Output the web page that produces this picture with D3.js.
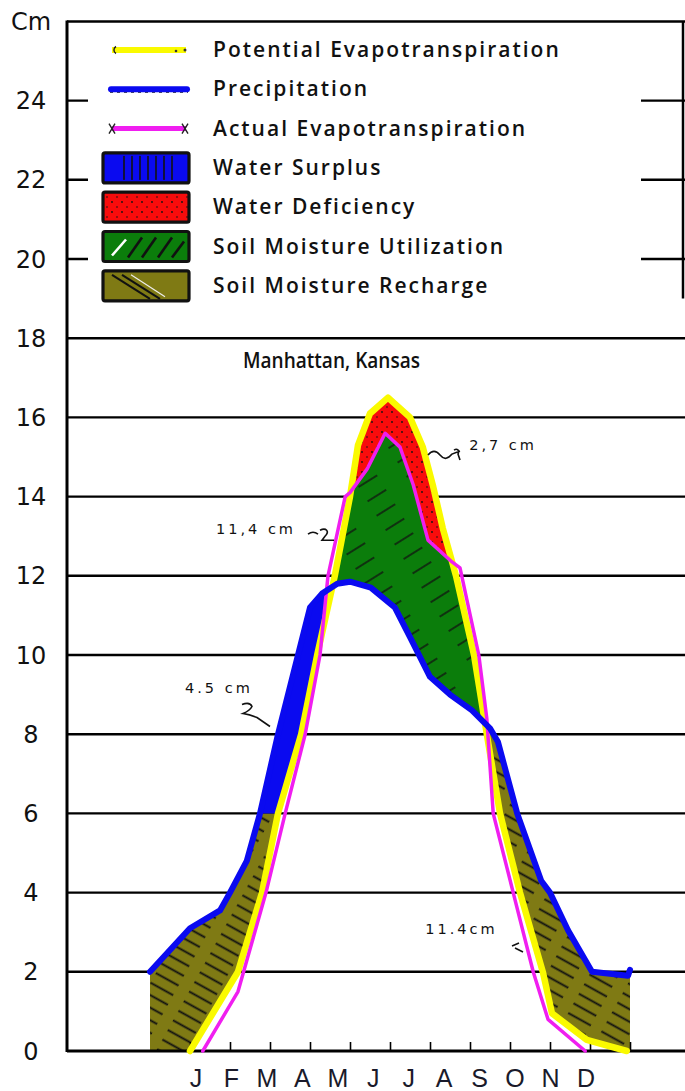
<!DOCTYPE html>
<html>
<head>
<meta charset="utf-8">
<script src="https://cdnjs.cloudflare.com/ajax/libs/d3/7.8.5/d3.min.js"></script>
<style>
  html, body { margin: 0; padding: 0; background: #fff; }
  svg { display: block; }
</style>
</head>
<body>
<svg id="chart"></svg>
<script>
// month position runs 0..12 over the year (0 = start of Jan, 12 = end of Dec), values in cm
let months = ["J", "F", "M", "A", "M", "J", "J", "A", "S", "O", "N", "D"];
let yTicks = [0, 2, 4, 6, 8, 10, 12, 14, 16, 18, 20, 22, 24];

let precipM = [0, 1, 1.75, 2, 2.42, 2.75, 3.2, 3.7, 4, 4.3, 4.68, 5, 5.52, 6.12, 6.5, 7, 7.5, 8.05, 8.5, 8.7, 9.18, 9.78, 10, 10.45, 10.88, 11.05, 11.95, 12];
let precipV = [2, 3.1, 3.55, 4, 4.8, 6, 8, 10, 11.2, 11.55, 11.8, 11.85, 11.7, 11.2, 10.45, 9.45, 9, 8.6, 8.15, 7.8, 6, 4.3, 4, 3.05, 2.3, 2, 1.9, 2.05];

let potM = [1, 2.2, 2.8, 3.2, 3.78, 4.18, 4.62, 5, 5.2, 5.5, 5.95, 6.5, 6.82, 7.08, 7.32, 7.65, 8.1, 8.42, 8.75, 9.25, 9.82, 10.05, 10.92, 11.92];
let potV = [0, 2, 4, 6, 8, 10, 12, 14, 15.3, 16.1, 16.5, 16, 15.25, 14.25, 13.2, 12, 10, 8, 6, 4, 2, 0.95, 0.28, 0];

let actM = [1.32, 2.2, 2.9, 3.38, 3.88, 4.25, 4.45, 4.88, 5, 5.43, 5.88, 6.25, 6.58, 6.95, 7.55, 7.75, 8.22, 8.42, 8.58, 9.08, 9.58, 9.95, 10.88];
let actV = [0, 1.5, 4, 6, 8, 10, 12, 14, 14.1, 14.7, 15.6, 15.25, 14.3, 12.9, 12.35, 12.2, 10, 8.4, 6, 4, 2, 0.8, 0];

let soilCapacity = 6; // recharge tops out here on the spring limb

let legendLabels = ["Potential Evapotranspiration", "Precipitation", "Actual Evapotranspiration",
    "Water Surplus", "Water Deficiency", "Soil Moisture Utilization", "Soil Moisture Recharge"];
let noteLabels = ["2,7 cm", "11,4 cm", "4.5 cm", "11.4cm"];
let title = "Manhattan, Kansas";

let width = 685,
    height = 1091,
    axisX = 67,
    rightX = 685;

let colBlue = "#0a0af0",
    colYellow = "#fafa00",
    colMagenta = "#f01ef0",
    colGreen = "#0b7d0b",
    colRed = "#f80c0c",
    colOlive = "#7f7a14";

let svg = d3.select("#chart").attr("width", width).attr("height", height);

let x = d3.scaleLinear().domain([0, 12]).range([150, 630]);
let y = d3.scaleLinear().domain([0, 26]).range([1051, 21.4]);

// linear lookup along a traced curve
function at(ms, vs, m, outside) {
    if (m < ms[0] || m > ms[ms.length - 1]) return outside;
    let i = d3.bisectRight(ms, m);
    if (i >= ms.length) return vs[vs.length - 1];
    let t = (m - ms[i - 1]) / (ms[i] - ms[i - 1]);
    return vs[i - 1] + t * (vs[i] - vs[i - 1]);
}

let defs = svg.append("defs");

let olivePat = defs.append("pattern").attr("id", "hatchOlive")
    .attr("patternUnits", "userSpaceOnUse").attr("width", 38).attr("height", 11)
    .attr("patternTransform", "rotate(29)");
olivePat.append("line").attr("x1", 0).attr("x2", 26).attr("y1", 5.5).attr("y2", 5.5)
    .attr("stroke", "#111").attr("stroke-width", 1.9);

let greenPat = defs.append("pattern").attr("id", "hatchGreen")
    .attr("patternUnits", "userSpaceOnUse").attr("width", 46).attr("height", 17)
    .attr("patternTransform", "rotate(-32)");
greenPat.append("line").attr("x1", 0).attr("x2", 22).attr("y1", 8).attr("y2", 8)
    .attr("stroke", "#111").attr("stroke-width", 1.4);

let dotPat = defs.append("pattern").attr("id", "dotsRed")
    .attr("patternUnits", "userSpaceOnUse").attr("width", 10).attr("height", 10);
dotPat.append("circle").attr("cx", 2).attr("cy", 2).attr("r", 0.9).attr("fill", "#111");
dotPat.append("circle").attr("cx", 7).attr("cy", 7).attr("r", 0.8).attr("fill", "#111");

let stripePat = defs.append("pattern").attr("id", "stripesBlue")
    .attr("patternUnits", "userSpaceOnUse").attr("width", 8).attr("height", 10);
stripePat.append("line").attr("x1", 4).attr("x2", 4).attr("y1", 0).attr("y2", 10)
    .attr("stroke", "#111").attr("stroke-width", 1.6);

// grid + frame
svg.append("g")
    .selectAll("line")
    .data(yTicks.filter(d => d > 0))
    .enter().append("line")
    .attr("x1", axisX).attr("x2", rightX)
    .attr("y1", d => y(d)).attr("y2", d => y(d))
    .attr("stroke", "#000").attr("stroke-width", 2.4);

svg.append("line").attr("x1", axisX).attr("x2", rightX).attr("y1", y(26)).attr("y2", y(26))
    .attr("stroke", "#000").attr("stroke-width", 2.5);
svg.append("line").attr("x1", rightX - 2).attr("x2", rightX - 2).attr("y1", y(26)).attr("y2", y(19))
    .attr("stroke", "#000").attr("stroke-width", 2.5);

// legend sits on a white card that hides the upper gridlines
svg.append("rect").attr("x", 88).attr("y", 27).attr("width", 553).attr("height", 283).attr("fill", "#fff");

// fills
let grid = d3.range(0, 12.0001, 0.01);
let rows = grid.map(m => ({
    m: m,
    p: at(precipM, precipV, m, 0),
    e: at(potM, potV, m, 0),
    a: at(actM, actV, m, 0)
}));

let area = d3.area()
    .defined(d => d.y1 - d.y0 > 0.0001)
    .x(d => x(d.m)).y0(d => y(d.y0)).y1(d => y(d.y1));

let recharge = rows.map(r => ({ m: r.m, y0: r.e, y1: r.m < 5 ? Math.min(r.p, soilCapacity) : (r.m > 8 ? r.p : r.e) }));
let surplus = rows.map(r => ({ m: r.m, y0: Math.max(r.e, soilCapacity), y1: r.m < 5 ? r.p : r.e }));
let utilization = rows.map(r => ({ m: r.m, y0: r.p, y1: (r.m > 4 && r.m < 8.5) ? Math.min(r.a, r.e) : r.p }));
let deficiency = rows.map(r => ({ m: r.m, y0: Math.max(r.a, r.p), y1: (r.m > 4 && r.m < 8.4) ? r.e : r.a }));

let fills = svg.append("g").attr("class", "fills");
fills.append("path").attr("d", area(recharge)).attr("fill", colOlive);
fills.append("path").attr("d", area(recharge)).attr("fill", "url(#hatchOlive)");
fills.append("path").attr("d", area(surplus)).attr("fill", colBlue);
fills.append("path").attr("d", area(utilization)).attr("fill", colGreen);
fills.append("path").attr("d", area(utilization)).attr("fill", "url(#hatchGreen)");
fills.append("path").attr("d", area(deficiency)).attr("fill", colRed);
fills.append("path").attr("d", area(deficiency)).attr("fill", "url(#dotsRed)");

// x axis with inward ticks
svg.append("g")
    .attr("transform", "translate(0," + y(0) + ")")
    .call(d3.axisTop(x).tickValues(d3.range(1, 13)).tickSize(9).tickFormat(""))
    .call(g => g.select(".domain").remove())
    .call(g => g.selectAll(".tick line").attr("stroke", "#000").attr("stroke-width", 1.6));

svg.append("line").attr("x1", axisX).attr("x2", rightX).attr("y1", y(0)).attr("y2", y(0))
    .attr("stroke", "#000").attr("stroke-width", 3);
svg.append("line").attr("x1", axisX).attr("x2", axisX).attr("y1", y(26) - 1).attr("y2", y(0) + 1)
    .attr("stroke", "#000").attr("stroke-width", 3);

// curves
let line = d3.line().x(d => x(d[0])).y(d => y(d[1]));
let curves = svg.append("g").attr("fill", "none").attr("stroke-linejoin", "round").attr("stroke-linecap", "round");
curves.append("path").attr("d", line(d3.zip(potM, potV))).attr("stroke", colYellow).attr("stroke-width", 6.5);
curves.append("path").attr("d", line(d3.zip(actM, actV))).attr("stroke", colMagenta).attr("stroke-width", 3.5);
curves.append("path").attr("d", line(d3.zip(precipM, precipV))).attr("stroke", colBlue).attr("stroke-width", 6);

// y labels
svg.append("g")
    .selectAll("text")
    .data(yTicks)
    .enter().append("text")
    .attr("x", 31).attr("y", d => y(d)).attr("dy", "0.36em")
    .attr("text-anchor", "middle")
    .style("font-family", "DejaVu Sans").style("font-size", "24px").attr("fill", "#111")
    .text(d => d);
svg.append("text").attr("x", 31).attr("y", y(26)).attr("dy", "0.36em")
    .attr("text-anchor", "middle")
    .style("font-family", "DejaVu Sans").style("font-size", "24px").attr("fill", "#111")
    .text("Cm");

// month labels
let xMonth = d3.scalePoint().domain(d3.range(12)).range([196, 586]);
svg.append("g")
    .selectAll("text")
    .data(months)
    .enter().append("text")
    .attr("x", (d, i) => xMonth(i)).attr("y", 1087)
    .attr("text-anchor", "middle")
    .style("font-family", "Liberation Sans").style("font-size", "25px").attr("fill", "#1a1a2a")
    .text(d => d);

// title (condensed lettering like the original)
svg.append("text").attr("x", 243).attr("y", 368)
    .attr("textLength", 177).attr("lengthAdjust", "spacingAndGlyphs")
    .style("font-family", "Open Sans").style("font-weight", 600).style("font-size", "22px")
    .attr("fill", "#111")
    .text(title);

// annotations (anchored in data units)
let noteAt = [[7.98, 15.18], [1.65, 13.05], [0.875, 9.05], [6.88, 2.95]];
let leaderAt = [[6.95, 15.2], [3.95, 13.1], [2.3, 8.75], [9.05, 2.7]];
let leaderPaths = [
    "M0,6 c4,-5 8,-5 12,0 s8,4 12,-1 l8,-3 M26,1 c3,-2 6,0 4,4 l2,6",
    "M0,2 q5,-4 10,0 M12,-2 c6,-3 10,1 5,6 l-3,4 h12",
    "M0,0 q8,-3 10,2 q-2,4 -9,7 q7,1 14,4 l13,9",
    "M0,2 l7,-3 M3,4 l8,4"
];
svg.append("g")
    .selectAll("text")
    .data(noteLabels)
    .enter().append("text")
    .attr("x", (d, i) => x(noteAt[i][0])).attr("y", (d, i) => y(noteAt[i][1]))
    .style("font-family", "DejaVu Sans").style("font-size", "14.5px").style("letter-spacing", "3px")
    .attr("fill", "#111")
    .text(d => d);
svg.append("g")
    .selectAll("path")
    .data(leaderPaths)
    .enter().append("path")
    .attr("transform", (d, i) => "translate(" + x(leaderAt[i][0]) + "," + y(leaderAt[i][1]) + ")")
    .attr("d", d => d)
    .attr("fill", "none").attr("stroke", "#111").attr("stroke-width", 1.6);

// legend
let legend = svg.append("g").attr("class", "legend");
let rowY = i => 50 + i * 39.3;

legendLabels.forEach(function (label, i) {
    let cy = rowY(i);
    if (i == 0) {
        legend.append("line").attr("x1", 112).attr("x2", 186).attr("y1", cy).attr("y2", cy)
            .attr("stroke", colYellow).attr("stroke-width", 6);
        legend.append("path").attr("d", "M116," + (cy - 3.5) + " a4,4 0 0 0 0,7")
            .attr("fill", "none").attr("stroke", "#222").attr("stroke-width", 1.5);
        legend.append("circle").attr("cx", 176).attr("cy", cy + 1).attr("r", 1.3).attr("fill", "#333");
        legend.append("circle").attr("cx", 185).attr("cy", cy).attr("r", 1.5).attr("fill", "#333");
    } else if (i == 1) {
        legend.append("line").attr("x1", 110).attr("x2", 188).attr("y1", cy + 2).attr("y2", cy + 2)
            .attr("stroke", "#111").attr("stroke-width", 3).attr("stroke-dasharray", "3,4");
        legend.append("line").attr("x1", 111).attr("x2", 187).attr("y1", cy).attr("y2", cy)
            .attr("stroke", colBlue).attr("stroke-width", 6).attr("stroke-linecap", "round");
    } else if (i == 2) {
        legend.append("line").attr("x1", 112).attr("x2", 186).attr("y1", cy).attr("y2", cy)
            .attr("stroke", colMagenta).attr("stroke-width", 5);
        [112, 185].forEach(function (cx) {
            legend.append("path").attr("d", "M" + (cx - 3) + "," + (cy - 5) + " l6,10 M" + (cx + 3) + "," + (cy - 5) + " l-6,10")
                .attr("stroke", "#222").attr("stroke-width", 1.4);
        });
    } else {
        let fillCol = [colBlue, colRed, colGreen, colOlive][i - 3];
        let top = cy - 15;
        legend.append("rect").attr("x", 103).attr("y", top).attr("width", 86).attr("height", 30)
            .attr("rx", 2).attr("fill", fillCol);
        if (i == 3) {
            legend.append("rect").attr("x", 117).attr("y", top + 3).attr("width", 58).attr("height", 24)
                .attr("fill", "url(#stripesBlue)");
        } else if (i == 4) {
            legend.append("rect").attr("x", 103).attr("y", top).attr("width", 86).attr("height", 30)
                .attr("fill", "url(#dotsRed)");
        } else if (i == 5) {
            [[112, 24, 126, 8, "#fff"], [128, 26, 142, 6, "#111"], [142, 26, 156, 6, "#111"], [158, 26, 172, 6, "#111"], [172, 26, 184, 10, "#111"]]
                .forEach(function (s) {
                    legend.append("line").attr("x1", s[0]).attr("y1", top + s[1]).attr("x2", s[2]).attr("y2", top + s[3])
                        .attr("stroke", s[4]).attr("stroke-width", 2.6);
                });
        } else {
            [[112, 4, 150, 28], [122, 4, 160, 28]].forEach(function (s) {
                legend.append("line").attr("x1", s[0]).attr("y1", top + s[1]).attr("x2", s[2]).attr("y2", top + s[3])
                    .attr("stroke", "#111").attr("stroke-width", 2);
            });
            legend.append("line").attr("x1", 131).attr("y1", top + 4).attr("x2", 165).attr("y2", top + 26)
                .attr("stroke", "#eee").attr("stroke-width", 1.2);
        }
        legend.append("rect").attr("x", 103).attr("y", top).attr("width", 86).attr("height", 30)
            .attr("rx", 2).attr("fill", "none").attr("stroke", "#111").attr("stroke-width", 3.2);
    }
    legend.append("text").attr("x", 213).attr("y", cy + 7)
        .style("font-family", "Open Sans").style("font-weight", 600).style("font-size", "21px")
        .style("letter-spacing", "2px").attr("fill", "#111")
        .text(label);
});
</script>
</body>
</html>
